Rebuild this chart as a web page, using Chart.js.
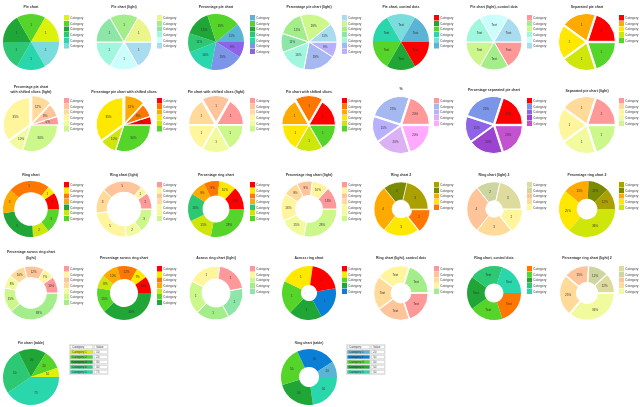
<!DOCTYPE html>
<html><head><meta charset="utf-8">
<script src="https://cdn.jsdelivr.net/npm/chart.js@4.4.1/dist/chart.umd.min.js"></script>
<style>
html,body{margin:0;padding:0;background:#fff}
#root{position:relative;width:640px;height:407px;overflow:hidden;font-family:"Liberation Sans",Arial,sans-serif;background:#fff}
#root canvas{position:absolute}
.ttl{position:absolute;white-space:nowrap;font-weight:bold;font-size:7px;line-height:7px;color:#333;transform:translate(-50%,-50%) scale(.5)}
.lg{position:absolute;transform:scale(.5);transform-origin:0 0;font-size:6.6px;color:#444}
.it{display:flex;align-items:center;height:11.2px;white-space:nowrap}
.bx{display:inline-block;width:10px;height:10.4px;margin-right:2px;flex:none}
.tb{position:absolute;transform:scale(.5);transform-origin:0 0;table-layout:fixed;width:79px;border-collapse:separate;border-spacing:2px;background:#e4e4e4;font-size:6px;color:#333}
.tb td{box-sizing:border-box;height:8px;padding:0 3px;line-height:6px;white-space:nowrap;background:#fff;border:1px solid #c8c8c8;overflow:hidden}
.tb td.k{width:46px}.tb td.v{width:27px}
</style></head><body><div id="root"></div>
<script>
// ---------- data ----------
const LEGEND_LABEL = 'Category';
const sixEqualValues = [1, 1, 1, 1, 1, 1];
const fiveEqualValues = [1, 1, 1, 1, 1];
const pctPieValues = [11, 19, 15, 11, 16, 19, 9];
const shiftedPctValues = [5, 8, 12, 35, 10, 30];
const separatedPctValues = [20, 25, 15, 20, 20];
const ringValues = [2, 1, 5, 3, 5, 2, 3];
const ringPctValues = [13, 10, 9, 9, 16, 15, 28];
const ring2Values = [3, 2, 4, 3, 2];
const ring2PctValues = [12, 12, 15, 25, 36];
const acrossPctValues = [10, 7, 12, 10, 8, 15, 38];
const tablePieValues = [10, 20, 30, 50, 75];
const tableRingValues = [20, 50, 50, 50, 50];
const tableCategories = ['Category 1', 'Category 2', 'Category 3', 'Category 4', 'Category 5'];
const tableHeader = ['Category', 'Value'];
const chartTitles = [
  'Pie chart', 'Pie chart (light)', 'Percentage pie chart', 'Percentage pie chart (light)',
  'Pie chart, control dots', 'Pie chart (light), control dots', 'Separated pie chart',
  'Percentage pie chart\nwith shifted slices (light)', 'Percentage pie chart with shifted slices',
  'Pie chart with shifted slices (light)', 'Pie chart with shifted slices', '%',
  'Percentage separated pie chart', 'Separated pie chart (light)',
  'Ring chart', 'Ring chart (light)', 'Percentage ring chart', 'Percentage ring chart (light)',
  'Ring chart 2', 'Ring chart (light) 2', 'Percentage ring chart 2',
  'Percentage across ring chart\n(light)', 'Percentage across ring chart', 'Across ring chart (light)',
  'Across ring chart', 'Ring chart (light), control dots', 'Ring chart, control dots',
  'Percentage ring chart (light) 2', 'Pie chart (table)', 'Ring chart (table)'
];

// ---------- styles ----------
const C = {
  red:'#ff0000', orange:'#ff7700', amber:'#ffaa00', yellow:'#ffe800', lime:'#dcf20b', yg:'#cfe60b',
  green:'#55d52a', dgreen:'#1fa637', mgreen:'#2dc873', teal:'#2ad6ab', cyan:'#7adcdc', sky:'#5ab4d6',
  blue:'#0a7fd6', peri:'#7b96e8', purple:'#8f63e8', violet:'#9b44d0', magenta:'#c252d0',
  olive:'#aaa000', oliveg:'#7a8a00', pink:'#ff9999', peach:'#ffc499', lorange:'#ffda99',
  lyellow:'#fff59d', pyellow:'#f1fa9c', lyg:'#ccf78a', lgreen:'#a3ee8b', mint:'#8de6a8',
  aqua:'#a0f7de', pcyan:'#ccfdfd', lblue:'#a8dcee', lperi:'#a5b8ef', lav:'#b9b0ff',
  lviolet:'#dcb0f5', lmag:'#ffaaff', khaki:'#dddb9e', sage:'#cdd5a0', pale:'#eaf68c'
};
const colX = [31, 124, 216, 309, 401, 494, 587];
const legX = [64, 157, 250, 342, 434, 527, 619];
const rowY = [42, 125, 209, 293, 377];

const specs = [
  {col:0,row:0,ty:[7],v:sixEqualValues,c:[C.lime,C.green,C.dgreen,C.mgreen,C.teal,C.cyan],f:'n',bw:0},
  {col:1,row:0,ty:[7],v:sixEqualValues,c:[C.pale,C.lgreen,C.mint,C.aqua,C.pcyan,C.lblue],f:'n',bw:1},
  {col:2,row:0,ty:[7],v:pctPieValues,c:[C.sky,C.green,C.dgreen,C.mgreen,C.teal,C.peri,C.purple],f:'p',bw:0},
  {col:3,row:0,ty:[7],v:pctPieValues,c:[C.lblue,C.lyg,C.lgreen,C.mint,C.aqua,C.lperi,C.lav],f:'p',bw:1},
  {col:4,row:0,ty:[7],v:sixEqualValues,c:[C.red,C.dgreen,C.green,C.teal,C.cyan,C.sky],f:'t',dir:'cw',bw:0},
  {col:5,row:0,ty:[7],v:sixEqualValues,c:[C.pink,C.lgreen,C.lyg,C.aqua,C.pcyan,C.lblue],f:'t',dir:'cw',bw:1},
  {col:6,row:0,ty:[6.5],v:fiveEqualValues,c:[C.red,C.amber,C.yellow,C.yg,C.green],f:'n',bw:1,d:[1.2,1.2,1.2,1.2,1.2]},

  {col:0,row:1,ty:[86.5,91.5],v:shiftedPctValues,c:[C.pink,C.peach,C.lorange,C.lyellow,C.pyellow,C.lyg],f:'p',bw:1,d:[1,1,3,1.5,1,0]},
  {col:1,row:1,ty:[92],v:shiftedPctValues,c:[C.red,C.orange,C.amber,C.yellow,C.yg,C.green],f:'p',bw:1,d:[1,1,3,1.5,1,0]},
  {col:2,row:1,ty:[92],v:sixEqualValues,c:[C.pink,C.peach,C.lorange,C.lyellow,C.pyellow,C.lyg],f:'n',bw:1,d:[1,3,1,1,1,0.5]},
  {col:3,row:1,ty:[92],v:sixEqualValues,c:[C.red,C.orange,C.amber,C.yellow,C.yg,C.green],f:'n',bw:1,d:[0,3,0.8,0,0,0]},
  {col:4,row:1,ty:[89],v:separatedPctValues,c:[C.pink,C.lperi,C.lav,C.lviolet,C.lmag],f:'p',bw:1,d:[1.2,1.2,1.2,1.2,1.2]},
  {col:5,row:1,ty:[89.5],v:separatedPctValues,c:[C.red,C.peri,C.purple,C.violet,C.magenta],f:'p',bw:1,d:[1.2,1.2,1.2,1.2,1.2]},
  {col:6,row:1,ty:[90.5],v:fiveEqualValues,c:[C.pink,C.lorange,C.lyellow,C.pyellow,C.lyg],f:'n',bw:1,d:[1.2,1.2,1.2,1.2,1.2]},

  {col:0,row:2,ty:[174.5],v:ringValues,c:[C.red,C.yellow,C.orange,C.amber,C.dgreen,C.yg,C.green],f:'n',bw:0,cut:'60%'},
  {col:1,row:2,ty:[174.5],v:ringValues,c:[C.pink,C.lyellow,C.peach,C.lorange,C.lyellow,C.pyellow,C.lyg],f:'n',bw:1,cut:'60%'},
  {col:2,row:2,ty:[174.5],v:ringPctValues,c:[C.red,C.yellow,C.orange,C.amber,C.mgreen,C.yg,C.green],f:'p',bw:0,cut:'48%'},
  {col:3,row:2,ty:[174.5],v:ringPctValues,c:[C.pink,C.lyellow,C.peach,C.lorange,C.lyellow,C.pyellow,C.lyg],f:'p',bw:1,cut:'48%'},
  {col:4,row:2,ty:[174.5],v:ring2Values,c:[C.olive,C.oliveg,C.amber,C.yellow,C.orange],f:'n',bw:0.6,cut:'33%',d:[0,0,0,0,2]},
  {col:5,row:2,ty:[174.5],v:ring2Values,c:[C.khaki,C.sage,C.peach,C.lorange,C.lyellow],f:'n',bw:1,cut:'30%',d:[0,0,0,0,1.5]},
  {col:6,row:2,ty:[174.5],v:ring2PctValues,c:[C.olive,C.oliveg,C.amber,C.yellow,C.yg],f:'p',bw:0,cut:'37%'},

  {col:0,row:3,ty:[252,258],v:acrossPctValues,c:[C.pink,C.lyellow,C.peach,C.lorange,C.pyellow,C.lyg,C.lgreen],f:'p',bw:1,cut:'57%'},
  {col:1,row:3,ty:[258],v:acrossPctValues,c:[C.red,C.yellow,C.orange,C.amber,C.yg,C.green,C.dgreen],f:'p',bw:0,cut:'52%'},
  {col:2,row:3,ty:[258],v:fiveEqualValues,c:[C.pink,C.lyellow,C.lyg,C.lgreen,C.mint],f:'n',bw:1,cut:'52%',start:10},
  {col:3,row:3,ty:[258],v:fiveEqualValues,c:[C.red,C.yellow,C.green,C.dgreen,C.blue],f:'n',bw:0,cut:'30%',start:10},
  {col:4,row:3,ty:[258],v:fiveEqualValues,c:[C.pink,C.peach,C.lorange,C.lyellow,C.lgreen],f:'t',dir:'cw',bw:1,cut:'35%',d:[0.6,0.6,0.6,0.6,0.6]},
  {col:5,row:3,ty:[258],v:fiveEqualValues,c:[C.orange,C.green,C.dgreen,C.mgreen,C.teal],f:'t',dir:'cw',bw:0,cut:'35%'},
  {col:6,row:3,ty:[258],v:ring2PctValues,c:[C.khaki,C.sage,C.peach,C.lorange,C.pyellow],f:'p',bw:1,cut:'37%',d:[0.8,0.8,0.8,0.8,0.8]},

  {x:31,row:4,ty:[342.5],v:tablePieValues,c:[C.lime,C.green,C.dgreen,C.mgreen,C.teal],f:'n',bw:0,table:{x:68.5,y:344}},
  {x:309,row:4,ty:[342.5],v:tableRingValues,c:[C.sky,C.blue,C.green,C.dgreen,C.teal],f:'n',bw:0,cut:'36%',table:{x:346,y:344}}
];

// ---------- rendering ----------
const root = document.getElementById('root');

function labelPlugin(texts, disp) {
  return {
    id: 'sliceLabels',
    afterDatasetsDraw(chart) {
      const ctx = chart.ctx;
      const meta = chart.getDatasetMeta(0);
      ctx.save();
      ctx.font = '3px "Liberation Sans", Arial, sans-serif';
      ctx.fillStyle = '#333';
      ctx.textAlign = 'center';
      ctx.textBaseline = 'middle';
      meta.data.forEach((arc, i) => {
        const p = arc.getProps(['x','y','startAngle','endAngle','innerRadius','outerRadius'], true);
        const mid = (p.startAngle + p.endAngle) / 2;
        const r = (p.innerRadius > 0 ? (p.innerRadius + p.outerRadius) / 2 : p.outerRadius * 0.6) + disp[i];
        ctx.fillText(texts[i], p.x + Math.cos(mid) * r, p.y + Math.sin(mid) * r);
      });
      ctx.restore();
    }
  };
}

specs.forEach((s, idx) => {
  const cx = s.x !== undefined ? s.x : colX[s.col];
  const cy = rowY[s.row];
  const R = s.row === 3 ? 27 : 28;
  const n = s.v.length;
  const total = s.v.reduce((a, b) => a + b, 0);
  const d = s.d || new Array(n).fill(0);
  const offs = s.v.map((v, i) => {
    const circ = 2 * Math.PI * v / total;
    const fix = 1 - Math.sin(Math.min(Math.PI, circ));
    return 4 * d[i] / (1 + fix);
  });
  const texts = s.v.map(v => s.f === 'p' ? v + '%' : (s.f === 't' ? 'Text' : String(v)));
  const maxD = Math.max(...d);
  const maxOff = Math.max(...offs);
  const r = R - maxD * 0.5;
  const S = 2 * R + 40;
  const pad = (S - s.bw - maxOff - 2 * r) / 2;
  const ccw = (s.dir || 'ccw') === 'ccw';
  const ord = arr => ccw ? arr.slice().reverse() : arr.slice();

  const cv = document.createElement('canvas');
  cv.width = S; cv.height = S;
  cv.style.width = S + 'px'; cv.style.height = S + 'px';
  cv.style.left = (cx - S / 2) + 'px'; cv.style.top = (cy - S / 2) + 'px';
  root.appendChild(cv);

  new Chart(cv, {
    type: 'doughnut',
    data: {
      labels: ord(s.v.map(() => LEGEND_LABEL)),
      datasets: [{
        data: ord(s.v),
        backgroundColor: ord(s.c),
        borderColor: '#ffffff',
        borderWidth: s.bw,
        hoverBorderWidth: s.bw,
        offset: ord(offs),
        hoverOffset: ord(offs)
      }]
    },
    options: {
      responsive: false,
      animation: false,
      events: [],
      cutout: s.cut || 0,
      rotation: 90 - (s.start || 0),
      layout: { padding: pad },
      plugins: { legend: { display: false }, title: { display: false }, tooltip: { enabled: false } }
    },
    plugins: [labelPlugin(ord(texts), ord(d))]
  });

  // title
  chartTitles[idx].split('\n').forEach((line, li) => {
    const t = document.createElement('div');
    t.className = 'ttl';
    t.textContent = line;
    t.style.left = cx + 'px';
    t.style.top = s.ty[li] + 'px';
    root.appendChild(t);
  });

  if (s.table) {
    const tb = document.createElement('table');
    tb.className = 'tb';
    tb.style.left = s.table.x + 'px';
    tb.style.top = s.table.y + 'px';
    let html = '<tr><td class="k">' + tableHeader[0] + '</td><td class="v">' + tableHeader[1] + '</td></tr>';
    s.v.forEach((v, i) => {
      html += '<tr><td class="k" style="background:' + s.c[i] + '">' + tableCategories[i] + '</td><td class="v">' + v + '</td></tr>';
    });
    tb.innerHTML = html;
    root.appendChild(tb);
  } else {
    const lg = document.createElement('div');
    lg.className = 'lg';
    lg.style.left = legX[s.col] + 'px';
    lg.style.top = (cy - 27) + 'px';
    lg.innerHTML = s.c.map(col => '<div class="it"><span class="bx" style="background:' + col + '"></span><span>' + LEGEND_LABEL + '</span></div>').join('');
    root.appendChild(lg);
  }
});
</script></body></html>
